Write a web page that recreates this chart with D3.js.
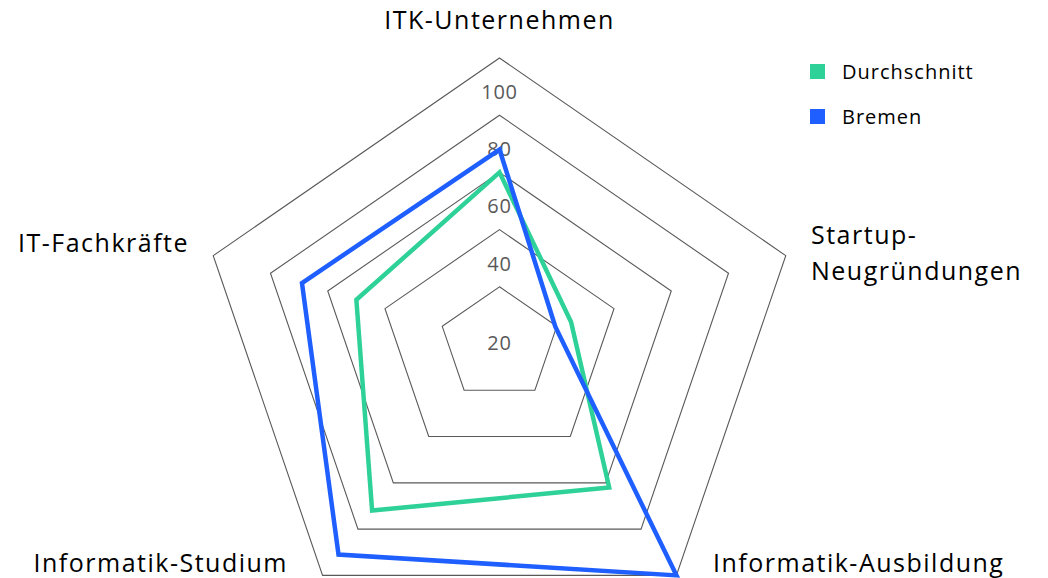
<!DOCTYPE html>
<html>
<head>
<meta charset="utf-8">
<script src="https://cdn.jsdelivr.net/npm/d3@7"></script>
<style>
    html, body { margin: 0; padding: 0; background: #fff; }
    svg { display: block; font-family: "Open Sans", "Noto Sans", sans-serif; }
</style>
</head>
<body>
<div id="chart"></div>
<script>
// Chart data
var categories = ["ITK-Unternehmen", "Startup-Neugründungen", "Informatik-Ausbildung", "Informatik-Studium", "IT-Fachkräfte"];
var durchschnitt = [60, 25, 62, 72, 50];
var bremen = [68, 19.5, 100, 91, 69];
var tickValues = [20, 40, 60, 80, 100];
var seriesNames = ["Durchschnitt", "Bremen"];

(function () {
    var width = 1048, height = 578;
    var cx = 499.5, cy = 344;
    // the picture is a bit wider than tall, so two radii
    var rx = 301, ry = 286;

    var seriesColors = ["#2ed197", "#1f5fff"];
    var gridColor = "#595959";

    var svg = d3.select("#chart").append("svg")
        .attr("width", width)
        .attr("height", height);

    var r = d3.scaleLinear().domain([0, 100]).range([0, 1]);
    var angle = d3.scalePoint().domain(d3.range(categories.length)).range([0, 2 * Math.PI * (categories.length - 1) / categories.length]);

    function px(i, v) { return cx + rx * r(v) * Math.sin(angle(i)); }
    function py(i, v) { return cy - ry * r(v) * Math.cos(angle(i)); }

    // Grid rings
    var ring = d3.line()
        .x(d => px(d.i, d.v))
        .y(d => py(d.i, d.v))
        .curve(d3.curveLinearClosed);

    svg.append("g").selectAll("path")
        .data(tickValues)
        .join("path")
        .attr("d", v => ring(categories.map((c, i) => ({ i: i, v: v }))))
        .attr("fill", "none")
        .attr("stroke", gridColor)
        .attr("stroke-width", 1.1);

    // Tick labels
    svg.append("g").selectAll("text")
        .data(tickValues)
        .join("text")
        .attr("x", cx)
        .attr("y", (v, k) => k === 0 ? cy - 1.5 : py(0, v) + 34)
        .attr("dy", "0.35em")
        .attr("text-anchor", "middle")
        .attr("fill", gridColor)
        .style("font-size", "20px")
        .style("letter-spacing", "0.8px")
        .text(d => d);

    // Series lines
    var series = [durchschnitt, bremen];
    var line = d3.line()
        .x((d, i) => px(i, d))
        .y((d, i) => py(i, d))
        .curve(d3.curveLinearClosed);

    svg.append("g").selectAll("path")
        .data(series)
        .join("path")
        .attr("d", d => line(d))
        .attr("fill", "none")
        .attr("stroke", (d, k) => seriesColors[k])
        .attr("stroke-width", 4.5)
        .attr("stroke-linejoin", "miter");

    // Category labels
    var labelPos = [
        { x: cx, y: 29, anchor: "middle", lines: ["ITK-Unternehmen"] },
        { x: 811, y: 244, anchor: "start", lines: ["Startup-", "Neugründungen"] },
        { x: 713, y: 572, anchor: "start", lines: ["Informatik-Ausbildung"] },
        { x: 288, y: 572, anchor: "end", lines: ["Informatik-Studium"] },
        { x: 189, y: 252, anchor: "end", lines: ["IT-Fachkräfte"] }
    ];

    var catText = svg.append("g").selectAll("text")
        .data(categories)
        .join("text")
        .attr("x", (d, i) => labelPos[i].x)
        .attr("y", (d, i) => labelPos[i].y)
        .attr("text-anchor", (d, i) => labelPos[i].anchor)
        .attr("fill", "#000")
        .style("font-size", "25px")
        .style("letter-spacing", "1.5px");

    catText.each(function (d, i) {
        d3.select(this).selectAll("tspan")
            .data(labelPos[i].lines)
            .join("tspan")
            .attr("x", labelPos[i].x)
            .attr("dy", (t, k) => k === 0 ? 0 : 36)
            .text(t => t);
    });

    // Legend
    var legend = svg.append("g").attr("transform", "translate(810, 64)");
    var item = legend.selectAll("g")
        .data(seriesNames)
        .join("g")
        .attr("transform", (d, k) => `translate(0, ${k * 45})`);

    item.append("rect")
        .attr("width", 15)
        .attr("height", 15)
        .attr("fill", (d, k) => seriesColors[k]);

    item.append("text")
        .attr("x", 32)
        .attr("y", 8)
        .attr("dy", "0.35em")
        .attr("fill", "#000")
        .style("font-size", "20px")
        .style("letter-spacing", "1px")
        .text(d => d);
})();
</script>
</body>
</html>
